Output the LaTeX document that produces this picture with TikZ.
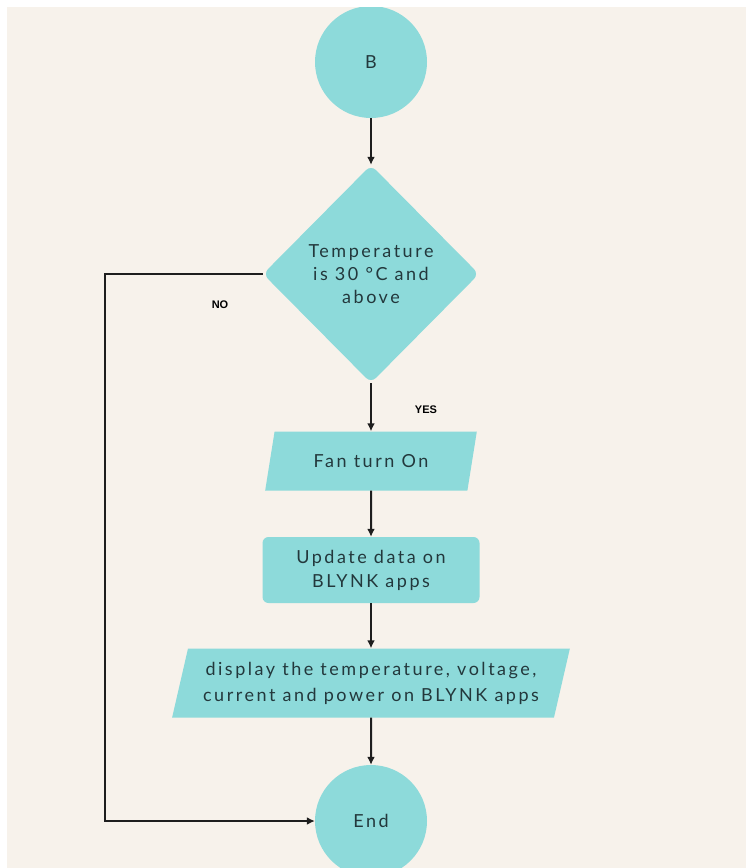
\documentclass[tikz,border=0pt]{standalone}
\usepackage{fontspec}
\setmainfont{Lato}[LetterSpace=14]
\newfontfamily\labelfont{Liberation Sans}
\usetikzlibrary{shapes.geometric,arrows.meta}
\definecolor{flowteal}{HTML}{8DDADA}
\definecolor{paper}{HTML}{F7F2EB}
\definecolor{inktext}{HTML}{23383C}
\definecolor{arrowink}{HTML}{1E1E1E}

\begin{document}
\begin{tikzpicture}[x=1pt,y=-1pt]
        \useasboundingbox (0,0) rectangle (746,868);
        \fill[white] (0,0) rectangle (746,868);
        \fill[paper] (7,7) rectangle (746,868);
        \clip (7,7) rectangle (746,868);

        \begin{scope}[every node/.style={fill=flowteal, text=inktext, align=center,
                inner sep=0pt, font=\fontsize{18}{23}\selectfont}]
            \node[circle, minimum size=112pt] (B) at (371,62) {B};
            \node[diamond, rounded corners=7pt, minimum width=216pt, minimum height=218pt] (temp) at (371,274) {Temperature\\is 30 °C and\\above};
            \node[trapezium, trapezium left angle=67, trapezium right angle=113, trapezium stretches=true,
                minimum width=212pt, minimum height=59pt] (fan) at (371,461) {Fan turn On};
            \node[rectangle, rounded corners=6pt, minimum width=217pt, minimum height=66pt] (update) at (371,570) {Update data on\\[1pt]BLYNK apps};
            \node[trapezium, trapezium left angle=71, trapezium right angle=109, trapezium stretches=true,
                minimum width=399pt, minimum height=69pt] (display) at (371,683) {display the temperature, voltage,\\[3pt]current and power on BLYNK apps};
            \node[circle, minimum size=112pt] (end) at (371,821) {End};
        \end{scope}

        \begin{scope}[every node/.style={text=black, font=\labelfont\bfseries\fontsize{11}{13}\selectfont}]
            \node (no) at (220,305) {NO};
            \node (yes) at (426,410) {YES};
        \end{scope}

        \coordinate (noTurn) at (105,274);

        \begin{scope}[
                every edge/.style={draw, arrowink, line width=2pt}]
            \path [-{Latex[length=8pt,width=8pt]}] (B) edge (temp);
            \path [-{Latex[length=8pt,width=8pt]}] (temp) edge (fan);
            \path [-{Latex[length=8pt,width=8pt]}] (fan) edge (update);
            \path [-{Latex[length=8pt,width=8pt]}] (update) edge (display);
            \path [-{Latex[length=8pt,width=8pt]}] (display) edge (end);
            \draw [arrowink, line width=2pt, -{Latex[length=8pt,width=8pt]}] (temp.west) -- (noTurn) |- (end.west);
        \end{scope}
    \end{tikzpicture}
\end{document}
